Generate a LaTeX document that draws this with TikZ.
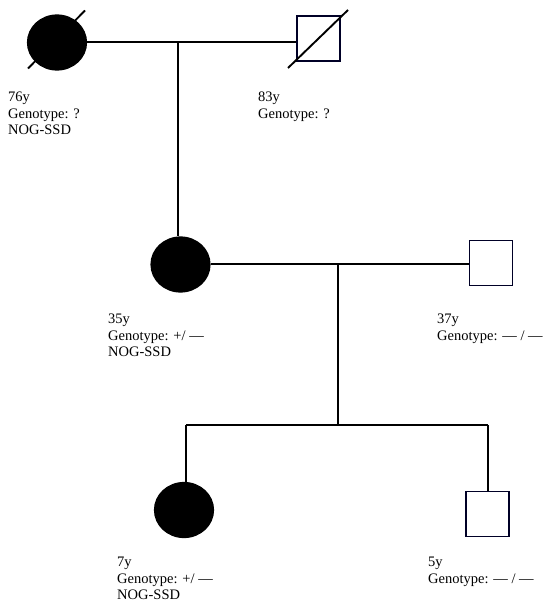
\documentclass[tikz,border=0pt]{standalone}
\usepackage{fontspec}
\setmainfont{Liberation Serif}
\usetikzlibrary{shapes.geometric,calc}
\tikzset{
  affected/.style={ellipse,draw=black,fill=black,line width=1.2pt,minimum width=59pt,minimum height=55pt,inner sep=0pt},
  unaffected/.style={rectangle,draw=black!85!blue,fill=white,line width=1.5pt,minimum width=43pt,minimum height=45pt,inner sep=0pt},
  rel/.style={line width=1.8pt,black},
  deceased/.style={line width=1.9pt,black},
  info/.style={anchor=north west,align=left,inner sep=0pt,font=\fontsize{14.5}{16.5}\selectfont}
}
\begin{document}
\begin{tikzpicture}[x=1pt,y=-1pt]
\useasboundingbox (0,0) rectangle (550,612);
% generation I
\node[affected] (c1) at (57,42.5) {};
\node[unaffected] (s1) at (318.5,38.5) {};
\draw[deceased] ($(c1.center)+(-29,26)$) -- ($(c1.center)+(28,-32)$);
\draw[deceased] ($(s1.center)+(-30.5,29.5)$) -- ($(s1.center)+(29.5,-28.5)$);
\coordinate (m1) at (178,42);
\draw[rel] (c1.east |- m1) -- (s1.west |- m1);
% generation II
\node[affected] (c2) at (180.5,264.5) {};
\node[unaffected] (s2) at (491,263) {};
\draw[rel] (m1) -- (m1 |- c2.north);
\coordinate (m2) at (338,264);
\draw[rel] (c2.east |- m2) -- (s2.west |- m2);
\coordinate (sib) at (338,425);
\draw[rel] (m2) -- (sib);
% generation III
\node[affected] (c3) at (184,510) {};
\node[unaffected] (s3) at (487.5,514) {};
\coordinate (sl) at (186,425);
\coordinate (sr) at (488,425);
\draw[rel] (sl) -- (sr);
\draw[rel] (sl) -- (sl |- c3.north);
\draw[rel] (sr) -- (sr |- s3.north);
% labels
\node[info] (t1) at (8,92) {76y\\Genotype: ?\\NOG-SSD};
\node[info] (t2) at (258,92) {83y\\Genotype: ?};
\node[info] (t3) at (108,314) {35y\\Genotype: +/ —\\NOG-SSD};
\node[info] (t4) at (437,314) {37y\\Genotype: — / —};
\node[info] (t5) at (117,557) {7y\\Genotype: +/ —\\NOG-SSD};
\node[info] (t6) at (428,557) {5y\\Genotype: — / —};
\end{tikzpicture}
\end{document}
